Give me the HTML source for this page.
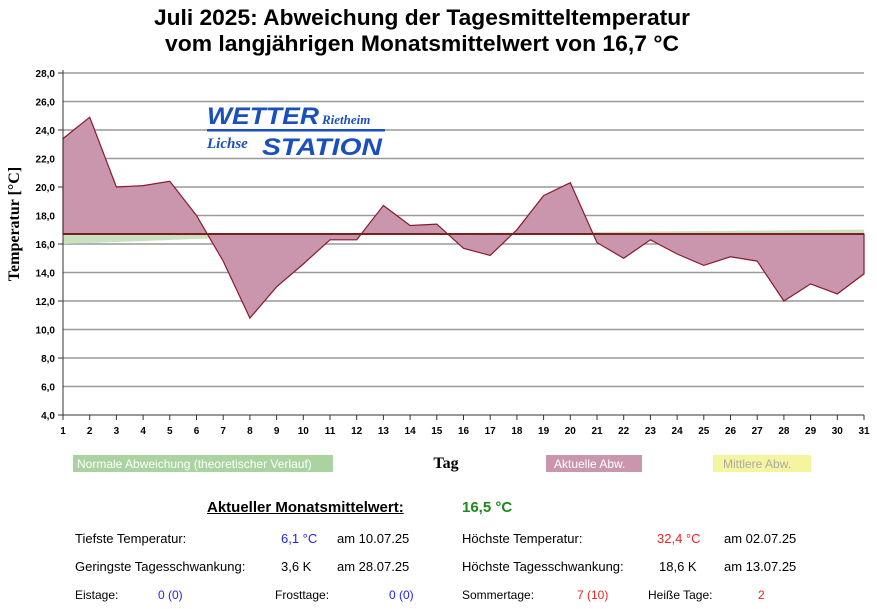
<!DOCTYPE html>
<html><head><meta charset="utf-8"><style>
body{margin:0;background:#fff;width:877px;height:609px;overflow:hidden;font-family:"Liberation Sans",sans-serif;}
.t{position:absolute;font-size:13px;color:#000;white-space:nowrap}
.s{font-size:12px}
</style></head><body>
<svg width="877" height="609" style="position:absolute;left:0;top:0" font-family="Liberation Sans, sans-serif">
<text x="422" y="25" font-size="22" font-weight="bold" text-anchor="middle" textLength="536" lengthAdjust="spacingAndGlyphs">Juli 2025: Abweichung der Tagesmitteltemperatur</text>
<text x="422" y="51" font-size="22" font-weight="bold" text-anchor="middle" textLength="514" lengthAdjust="spacingAndGlyphs">vom langjährigen Monatsmittelwert von 16,7 °C</text>
<g stroke="#999" stroke-width="1.5">
<line x1="63" x2="864" y1="73" y2="73"/><line x1="63" x2="864" y1="101.5" y2="101.5"/><line x1="63" x2="864" y1="130" y2="130"/><line x1="63" x2="864" y1="158.5" y2="158.5"/><line x1="63" x2="864" y1="187" y2="187"/><line x1="63" x2="864" y1="215.5" y2="215.5"/><line x1="63" x2="864" y1="244" y2="244"/><line x1="63" x2="864" y1="272.5" y2="272.5"/><line x1="63" x2="864" y1="301" y2="301"/><line x1="63" x2="864" y1="329.5" y2="329.5"/><line x1="63" x2="864" y1="358" y2="358"/><line x1="63" x2="864" y1="386.5" y2="386.5"/>
</g>
<polygon points="63,234 63,244 330,234 597,232 864,229.5 864,234" fill="#c8e2c0"/>
<polygon points="63,234 63,138.6 89.7,117.2 116.4,187 143.1,185.6 169.8,181.3 196.5,215.5 223.2,261.1 249.9,318.1 276.6,286.8 303.3,264 330,239.8 356.7,239.8 383.4,205.5 410.1,225.5 436.8,224.1 463.5,248.3 490.2,255.4 516.9,229.8 543.6,195.6 570.3,182.7 597,242.6 623.7,258.3 650.4,239.8 677.1,254 703.8,265.4 730.5,256.8 757.2,261.1 783.9,301 810.6,283.9 837.3,293.9 864,273.9 864,234" fill="#c996ad" stroke="#8b1a2a" stroke-width="1.2"/>
<line x1="63" x2="864" y1="234" y2="234" stroke="#7a2020" stroke-width="2"/>
<line x1="63" x2="63" y1="70" y2="415" stroke="#333"/>
<line x1="60" x2="864" y1="415" y2="415" stroke="#333"/>
<g font-size="10" font-weight="bold" text-anchor="end" fill="#000">
<text x="55" y="77">28,0</text><text x="55" y="105.5">26,0</text><text x="55" y="134">24,0</text><text x="55" y="162.5">22,0</text><text x="55" y="191">20,0</text><text x="55" y="219.5">18,0</text><text x="55" y="248">16,0</text><text x="55" y="276.5">14,0</text><text x="55" y="305">12,0</text><text x="55" y="333.5">10,0</text><text x="55" y="362">8,0</text><text x="55" y="390.5">6,0</text><text x="55" y="419">4,0</text>
</g>
<g stroke="#333"><line x1="58" x2="63" y1="73" y2="73"/><line x1="58" x2="63" y1="130" y2="130"/><line x1="58" x2="63" y1="187" y2="187"/><line x1="58" x2="63" y1="244" y2="244"/><line x1="58" x2="63" y1="301" y2="301"/><line x1="58" x2="63" y1="358" y2="358"/><line x1="58" x2="63" y1="415" y2="415"/></g>
<g font-size="10" font-weight="bold" text-anchor="middle" fill="#000" id="xl"></g>
<text transform="translate(19,224) rotate(-90)" font-family="Liberation Serif, serif" font-size="16" font-weight="bold" text-anchor="middle">Temperatur [°C]</text>
<text x="446" y="468" font-family="Liberation Serif, serif" font-size="16" font-weight="bold" text-anchor="middle">Tag</text>
<g font-family="Liberation Sans, sans-serif" font-style="italic" font-weight="bold" fill="#1a4fbf">
<text x="207" y="124" font-size="24" textLength="112" lengthAdjust="spacingAndGlyphs">WETTER</text>
<text x="322" y="124" font-size="13" font-family="Liberation Serif, serif">Rietheim</text>
<rect x="207" y="129" width="178" height="2.5"/>
<text x="207" y="148" font-size="15" font-family="Liberation Serif, serif">Lichse</text>
<text x="262" y="155" font-size="24" textLength="120" lengthAdjust="spacingAndGlyphs">STATION</text>
</g>
<rect x="73" y="455" width="260" height="17" fill="#a9d39f"/>
<text x="77" y="468" font-size="12" fill="#fff">Normale Abweichung (theoretischer Verlauf)</text>
<rect x="546" y="455" width="96" height="17" fill="#c996ad"/>
<text x="554" y="468" font-size="12" fill="#fff">Aktuelle Abw.</text>
<rect x="713" y="455" width="98" height="17" fill="#f5f5a0"/>
<text x="723" y="468" font-size="12" fill="#aaa">Mittlere Abw.</text>
</svg>
<script>
var g=document.getElementById('xl'),s='';
for(var d=1;d<=31;d++){var x=63+(d-1)*26.7;s+='<line x1="'+x+'" x2="'+x+'" y1="415" y2="420" stroke="#333"/><text x="'+x+'" y="434">'+d+'</text>';}
g.innerHTML=s;
</script>
<div class="t" style="left:207px;top:499px;font-size:15px;font-weight:bold;text-decoration:underline">Aktueller Monatsmittelwert:</div>
<div class="t" style="left:462px;top:499px;font-size:15px;font-weight:bold;color:#1a8a1a">16,5 °C</div>
<div class="t" style="left:75px;top:531px">Tiefste Temperatur:</div>
<div class="t" style="left:281px;top:531px;color:#2222ee">6,1 °C</div>
<div class="t" style="left:337px;top:531px">am 10.07.25</div>
<div class="t" style="left:462px;top:531px">Höchste Temperatur:</div>
<div class="t" style="left:657px;top:531px;color:#ee2222">32,4 °C</div>
<div class="t" style="left:724px;top:531px">am 02.07.25</div>
<div class="t" style="left:75px;top:559px">Geringste Tagesschwankung:</div>
<div class="t" style="left:281px;top:559px">3,6 K</div>
<div class="t" style="left:337px;top:559px">am 28.07.25</div>
<div class="t" style="left:462px;top:559px">Höchste Tagesschwankung:</div>
<div class="t" style="left:659px;top:559px">18,6 K</div>
<div class="t" style="left:724px;top:559px">am 13.07.25</div>
<div class="t s" style="left:75px;top:588px">Eistage:</div>
<div class="t s" style="left:158px;top:588px;color:#2222ee">0 (0)</div>
<div class="t s" style="left:275px;top:588px">Frosttage:</div>
<div class="t s" style="left:389px;top:588px;color:#2222ee">0 (0)</div>
<div class="t s" style="left:462px;top:588px">Sommertage:</div>
<div class="t s" style="left:577px;top:588px;color:#ee2222">7 (10)</div>
<div class="t s" style="left:648px;top:588px">Heiße Tage:</div>
<div class="t s" style="left:758px;top:588px;color:#ee2222">2</div>
</body></html>
